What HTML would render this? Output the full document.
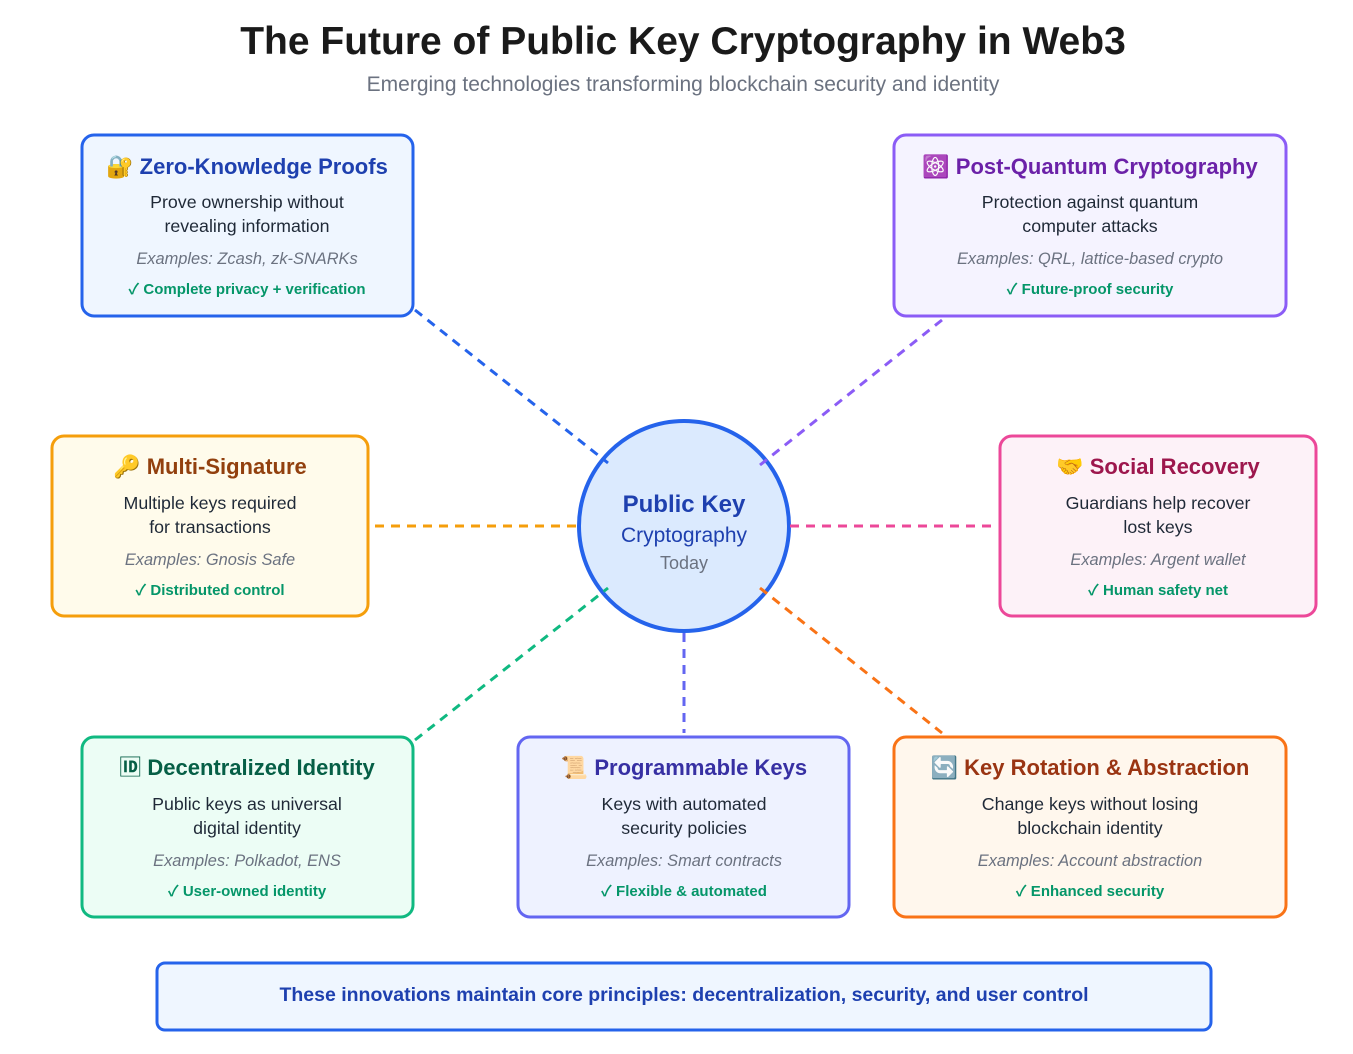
<!DOCTYPE html>
<html><head><meta charset="utf-8"><style>
html,body{margin:0;padding:0;background:#fff}
svg{display:block}
text{font-family:"Liberation Sans","Noto Sans CJK SC",sans-serif}
.t{font-size:22px;font-weight:bold;text-anchor:middle}
.d{font-size:17.8px;fill:#1f2937;text-anchor:middle}
.e{font-size:16.4px;font-style:italic;fill:#6b7280;text-anchor:middle}
.c{font-size:15px;font-weight:bold;fill:#059669;text-anchor:middle}
</style></head><body>
<svg width="1353" height="1054" viewBox="0 0 1353 1054" xmlns="http://www.w3.org/2000/svg">
<text x="683" y="54" text-anchor="middle" font-size="39" font-weight="bold" fill="#1a1a1a">The Future of Public Key Cryptography in Web3</text>
<text x="683" y="91" text-anchor="middle" font-size="21" fill="#6b7280">Emerging technologies transforming blockchain security and identity</text>

<circle cx="684" cy="526" r="105" fill="#dbeafe" stroke="#2563eb" stroke-width="4"/>
<g stroke-width="3" stroke-dasharray="9,7" fill="none">
<line x1="415" y1="310" x2="608" y2="463" stroke="#2563eb"/>
<line x1="942" y1="320" x2="760" y2="465" stroke="#8b5cf6"/>
<line x1="375" y1="526" x2="580" y2="526" stroke="#f59e0b"/>
<line x1="790" y1="526" x2="993" y2="526" stroke="#ec4899"/>
<line x1="415" y1="740" x2="608" y2="588" stroke="#10b981"/>
<line x1="684" y1="633" x2="684" y2="733" stroke="#6366f1"/>
<line x1="760" y1="588" x2="942" y2="733" stroke="#f97316"/>
</g>
<text x="684" y="512" text-anchor="middle" font-size="24" font-weight="bold" fill="#1e40af">Public Key</text>
<text x="684" y="542" text-anchor="middle" font-size="21" fill="#1e40af">Cryptography</text>
<text x="684" y="569" text-anchor="middle" font-size="18" fill="#6b7280">Today</text>

<rect x="82" y="135" width="331" height="181" rx="12" fill="#eff6ff" stroke="#2563eb" stroke-width="3"/>
<text x="247" y="174" class="t" fill="#1e40af">🔐 Zero-Knowledge Proofs</text>
<text x="247" y="208" class="d">Prove ownership without</text>
<text x="247" y="232" class="d">revealing information</text>
<text x="247" y="264" class="e">Examples: Zcash, zk-SNARKs</text>
<text x="247" y="294" class="c">✓ Complete privacy + verification</text>

<rect x="894" y="135" width="392" height="181" rx="12" fill="#f5f3ff" stroke="#8b5cf6" stroke-width="3"/>
<text x="1090" y="174" class="t" fill="#6b21a8">⚛️ Post-Quantum Cryptography</text>
<text x="1090" y="208" class="d">Protection against quantum</text>
<text x="1090" y="232" class="d">computer attacks</text>
<text x="1090" y="264" class="e">Examples: QRL, lattice-based crypto</text>
<text x="1090" y="294" class="c">✓ Future-proof security</text>

<rect x="52" y="436" width="316" height="180" rx="12" fill="#fffbeb" stroke="#f59e0b" stroke-width="3"/>
<text x="210" y="474" class="t" fill="#92400e">🔑 Multi-Signature</text>
<text x="210" y="509" class="d">Multiple keys required</text>
<text x="210" y="533" class="d">for transactions</text>
<text x="210" y="565" class="e">Examples: Gnosis Safe</text>
<text x="210" y="595" class="c">✓ Distributed control</text>

<rect x="1000" y="436" width="316" height="180" rx="12" fill="#fdf2f8" stroke="#ec4899" stroke-width="3"/>
<text x="1158" y="474" class="t" fill="#9d174d">🤝 Social Recovery</text>
<text x="1158" y="509" class="d">Guardians help recover</text>
<text x="1158" y="533" class="d">lost keys</text>
<text x="1158" y="565" class="e">Examples: Argent wallet</text>
<text x="1158" y="595" class="c">✓ Human safety net</text>

<rect x="82" y="737" width="331" height="180" rx="12" fill="#ecfdf5" stroke="#10b981" stroke-width="3"/>
<text x="247" y="775" class="t" fill="#065f46">🆔 Decentralized Identity</text>
<text x="247" y="810" class="d">Public keys as universal</text>
<text x="247" y="834" class="d">digital identity</text>
<text x="247" y="866" class="e">Examples: Polkadot, ENS</text>
<text x="247" y="896" class="c">✓ User-owned identity</text>

<rect x="518" y="737" width="331" height="180" rx="12" fill="#eef2ff" stroke="#6366f1" stroke-width="3"/>
<text x="684" y="775" class="t" fill="#3730a3">📜 Programmable Keys</text>
<text x="684" y="810" class="d">Keys with automated</text>
<text x="684" y="834" class="d">security policies</text>
<text x="684" y="866" class="e">Examples: Smart contracts</text>
<text x="684" y="896" class="c">✓ Flexible &amp; automated</text>

<rect x="894" y="737" width="392" height="180" rx="12" fill="#fff7ed" stroke="#f97316" stroke-width="3"/>
<text x="1090" y="775" class="t" fill="#9a3412">🔄 Key Rotation &amp; Abstraction</text>
<text x="1090" y="810" class="d">Change keys without losing</text>
<text x="1090" y="834" class="d">blockchain identity</text>
<text x="1090" y="866" class="e">Examples: Account abstraction</text>
<text x="1090" y="896" class="c">✓ Enhanced security</text>

<rect x="157" y="963" width="1054" height="67" rx="8" fill="#eff6ff" stroke="#2563eb" stroke-width="3"/>
<text x="684" y="1001" text-anchor="middle" font-size="19.5" font-weight="bold" fill="#1e40af">These innovations maintain core principles: decentralization, security, and user control</text>
</svg>
</body></html>
